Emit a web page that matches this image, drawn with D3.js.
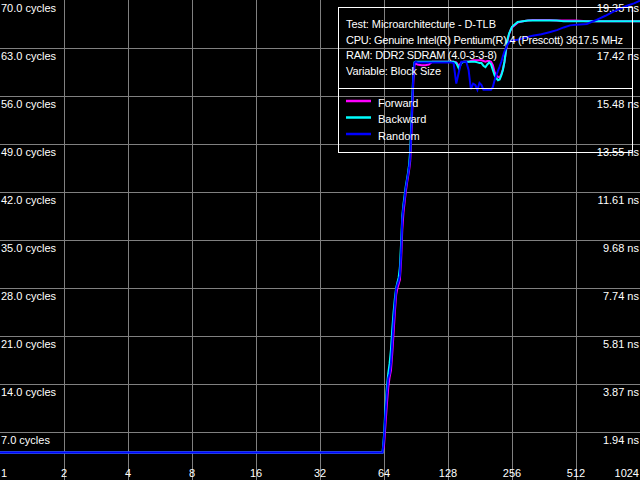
<!DOCTYPE html>
<html>
<head>
<meta charset="utf-8">
<script src="https://cdn.jsdelivr.net/npm/d3@7"></script>
<style>
html, body { margin: 0; padding: 0; background: #000; }
svg { display: block; }
text { font-family: "Liberation Sans", Arial, sans-serif; font-size: 11px; fill: #fff; }
</style>
</head>
<body>
<script>
// Block sizes (x values)
const blockSizes = [
  1, 2, 4, 8, 16, 32, 48, 63,
  64, 65, 66, 67, 68, 69, 70, 71, 72, 73, 74, 75, 76, 77, 78, 79, 80, 81, 82, 83, 84, 85, 86, 87, 88, 89, 90,
  92, 96, 100, 104, 108, 112, 116, 120, 124,
  128, 132, 136, 140, 144, 148, 152, 156, 160, 164, 168, 172, 176, 180, 184, 188, 192, 196, 200, 204, 208, 212, 216, 220, 224, 228, 232, 236, 240, 244, 248, 252, 256,
  272, 288, 304, 320, 352, 384, 416, 448, 480, 512, 576, 640, 704, 768, 832, 896, 960, 1024
];

// Latency in cycles
const forwardCycles = [
  4.0, 4.0, 4.0, 4.0, 4.0, 4.0, 4.0, 4.0,
  5.0, 8.0, 11.0, 13.5, 15.0, 16.0, 18.5, 21.5, 24.5, 27.0, 28.0, 28.6, 29.2, 32.0, 36.5, 39.0, 40.5, 42.0, 43.2, 44.2, 45.2, 46.5, 50.0, 54.5, 58.5, 60.5, 60.8,
  60.6, 60.5, 60.5, 60.6, 61.0, 61.0, 61.0, 61.0, 61.0,
  61.0, 61.0, 61.0, 60.9, 60.4, 60.9, 61.0, 61.0, 61.0, 61.1, 61.2, 61.2, 61.2, 61.2, 61.2, 61.1, 61.0, 61.1, 61.1, 61.0, 60.5, 59.5, 59.0, 58.8, 58.7, 59.2, 59.9, 61.0, 62.6, 64.1, 65.0, 65.6, 66.0,
  66.7, 66.9, 67.0, 67.1, 67.1, 67.1, 67.0, 67.0, 67.0, 67.0, 66.9, 66.9, 66.9, 66.9, 66.9, 66.9, 66.9, 66.9
];
const backwardCycles = [
  4.0, 4.0, 4.0, 4.0, 4.0, 4.0, 4.0, 4.0,
  6.5, 10.5, 13.5, 15.5, 17.0, 19.0, 22.0, 24.5, 26.5, 28.0, 28.8, 29.5, 31.0, 34.5, 38.5, 40.2, 41.5, 42.8, 43.8, 44.8, 46.0, 48.0, 52.0, 56.0, 59.5, 60.9, 61.0,
  61.0, 61.0, 61.0, 61.0, 61.0, 61.0, 61.0, 61.0, 61.0,
  61.0, 61.0, 61.0, 60.8, 60.0, 60.8, 61.0, 61.0, 61.0, 61.0, 61.0, 61.0, 60.9, 60.8, 60.8, 60.4, 60.2, 60.6, 60.9, 60.6, 59.8, 59.0, 58.6, 58.3, 58.4, 59.0, 59.8, 61.0, 62.8, 64.3, 65.1, 65.6, 66.1,
  66.8, 66.9, 67.0, 67.0, 67.0, 67.0, 67.0, 66.9, 66.9, 66.9, 66.9, 66.9, 66.9, 66.9, 66.9, 66.9, 66.9, 66.9
];
const randomCycles = [
  4.0, 4.0, 4.0, 4.0, 4.0, 4.0, 4.0, 4.0,
  6.0, 9.5, 12.5, 14.8, 15.5, 17.0, 20.0, 23.0, 25.5, 27.8, 28.5, 29.0, 29.8, 33.0, 38.0, 39.8, 41.0, 42.5, 43.5, 44.5, 45.5, 47.0, 51.0, 55.4, 59.0, 60.8, 61.0,
  60.9, 60.9, 60.9, 60.9, 60.9, 60.9, 60.9, 60.9, 60.9,
  60.9, 60.9, 60.8, 57.8, 59.5, 61.0, 61.0, 61.0, 59.8, 57.0, 57.8, 57.6, 56.9, 57.9, 57.6, 56.9, 56.9, 56.9, 56.9, 56.9, 57.3, 58.3, 59.0, 59.7, 60.3, 61.0, 61.8, 62.5, 63.0, 63.5, 63.8, 64.0, 64.1,
  64.2, 64.4, 64.6, 64.8, 65.0, 65.3, 65.6, 66.0, 66.3, 66.4, 66.5, 67.1, 67.7, 68.3, 68.8, 69.2, 69.5, 69.9
];

const seriesNames = ["Forward", "Backward", "Random"];
const seriesColors = ["#ff00ff", "#00ffff", "#0000ff"];

const xTicks = [1, 2, 4, 8, 16, 32, 64, 128, 256, 512, 1024];
const yTicks = [7, 14, 21, 28, 35, 42, 49, 56, 63, 70];
const cycleLabels = ["7.0 cycles", "14.0 cycles", "21.0 cycles", "28.0 cycles", "35.0 cycles", "42.0 cycles", "49.0 cycles", "56.0 cycles", "63.0 cycles", "70.0 cycles"];
const nsLabels = ["1.94 ns", "3.87 ns", "5.81 ns", "7.74 ns", "9.68 ns", "11.61 ns", "13.55 ns", "15.48 ns", "17.42 ns", "19.35 ns"];

const infoLines = [
  "Test: Microarchitecture - D-TLB",
  "CPU: Genuine Intel(R) Pentium(R) 4 (Prescott) 3617.5 MHz",
  "RAM: DDR2 SDRAM (4.0-3-3-8)",
  "Variable: Block Size"
];
const infoWidths = [150, 277, 151, 95];

const W = 640, H = 480;
const svg = d3.select("body").append("svg").attr("width", W).attr("height", H);
svg.append("rect").attr("width", W).attr("height", H).attr("fill", "#000");

const x = d3.scaleLog().base(2).domain([1, 1024]).range([0, 640]);
const y = d3.scaleLinear().domain([0, 70]).range([480, 0]);

// grid
const grid = svg.append("g").attr("stroke", "#808080").attr("stroke-width", 1).attr("shape-rendering", "crispEdges");
grid.selectAll("line.v").data(xTicks.filter(d => d > 1 && d < 1024)).enter().append("line")
  .attr("x1", d => Math.round(x(d)) + 0.5).attr("x2", d => Math.round(x(d)) + 0.5)
  .attr("y1", 0).attr("y2", H);
grid.selectAll("line.h").data(yTicks.filter(d => d < 70)).enter().append("line")
  .attr("y1", d => Math.round(y(d)) + 0.5).attr("y2", d => Math.round(y(d)) + 0.5)
  .attr("x1", 0).attr("x2", W);

// y labels
svg.selectAll("text.yl").data(yTicks).enter().append("text")
  .attr("x", 1).attr("y", d => y(d) + 12).text((d, i) => cycleLabels[i]);
svg.selectAll("text.yr").data(yTicks).enter().append("text")
  .attr("x", 639).attr("y", d => y(d) + 12).attr("text-anchor", "end").text((d, i) => nsLabels[i]);

// x labels
svg.selectAll("text.xl").data(xTicks).enter().append("text")
  .attr("x", (d, i) => i === 0 ? 1 : (i === xTicks.length - 1 ? 639 : x(d)))
  .attr("y", 477)
  .attr("text-anchor", (d, i) => i === 0 ? "start" : (i === xTicks.length - 1 ? "end" : "middle"))
  .text(d => d);

// lines
const allSeries = [forwardCycles, backwardCycles, randomCycles];
const line = d3.line().x(d => x(d[0])).y(d => y(d[1]));
allSeries.forEach((vals, i) => {
  const pts = blockSizes.map((s, j) => [s, vals[j]]);
  svg.append("path").datum(pts).attr("d", line)
    .attr("fill", "none").attr("stroke", seriesColors[i]).attr("stroke-width", 2)
    .attr("stroke-linejoin", "miter");
});

// legend box
const lg = svg.append("g");
lg.append("rect").attr("x", 338.5).attr("y", 7.5).attr("width", 294).attr("height", 145)
  .attr("fill", "none").attr("stroke", "#fff").attr("stroke-width", 1);
lg.append("line").attr("x1", 338.5).attr("x2", 632.5).attr("y1", 88.5).attr("y2", 88.5)
  .attr("stroke", "#fff").attr("stroke-width", 1);
lg.selectAll("text.info").data(infoLines).enter().append("text")
  .attr("x", 346).attr("y", (d, i) => 28 + i * 15.6)
  .attr("textLength", (d, i) => infoWidths[i]).attr("lengthAdjust", "spacing")
  .text(d => d);
seriesNames.forEach((name, i) => {
  const yy = 101 + i * 16.5;
  lg.append("line").attr("x1", 346).attr("x2", 371).attr("y1", yy).attr("y2", yy)
    .attr("stroke", seriesColors[i]).attr("stroke-width", 2.5);
  lg.append("text").attr("x", 378).attr("y", yy + 5.5).text(name);
});
</script>
</body>
</html>
